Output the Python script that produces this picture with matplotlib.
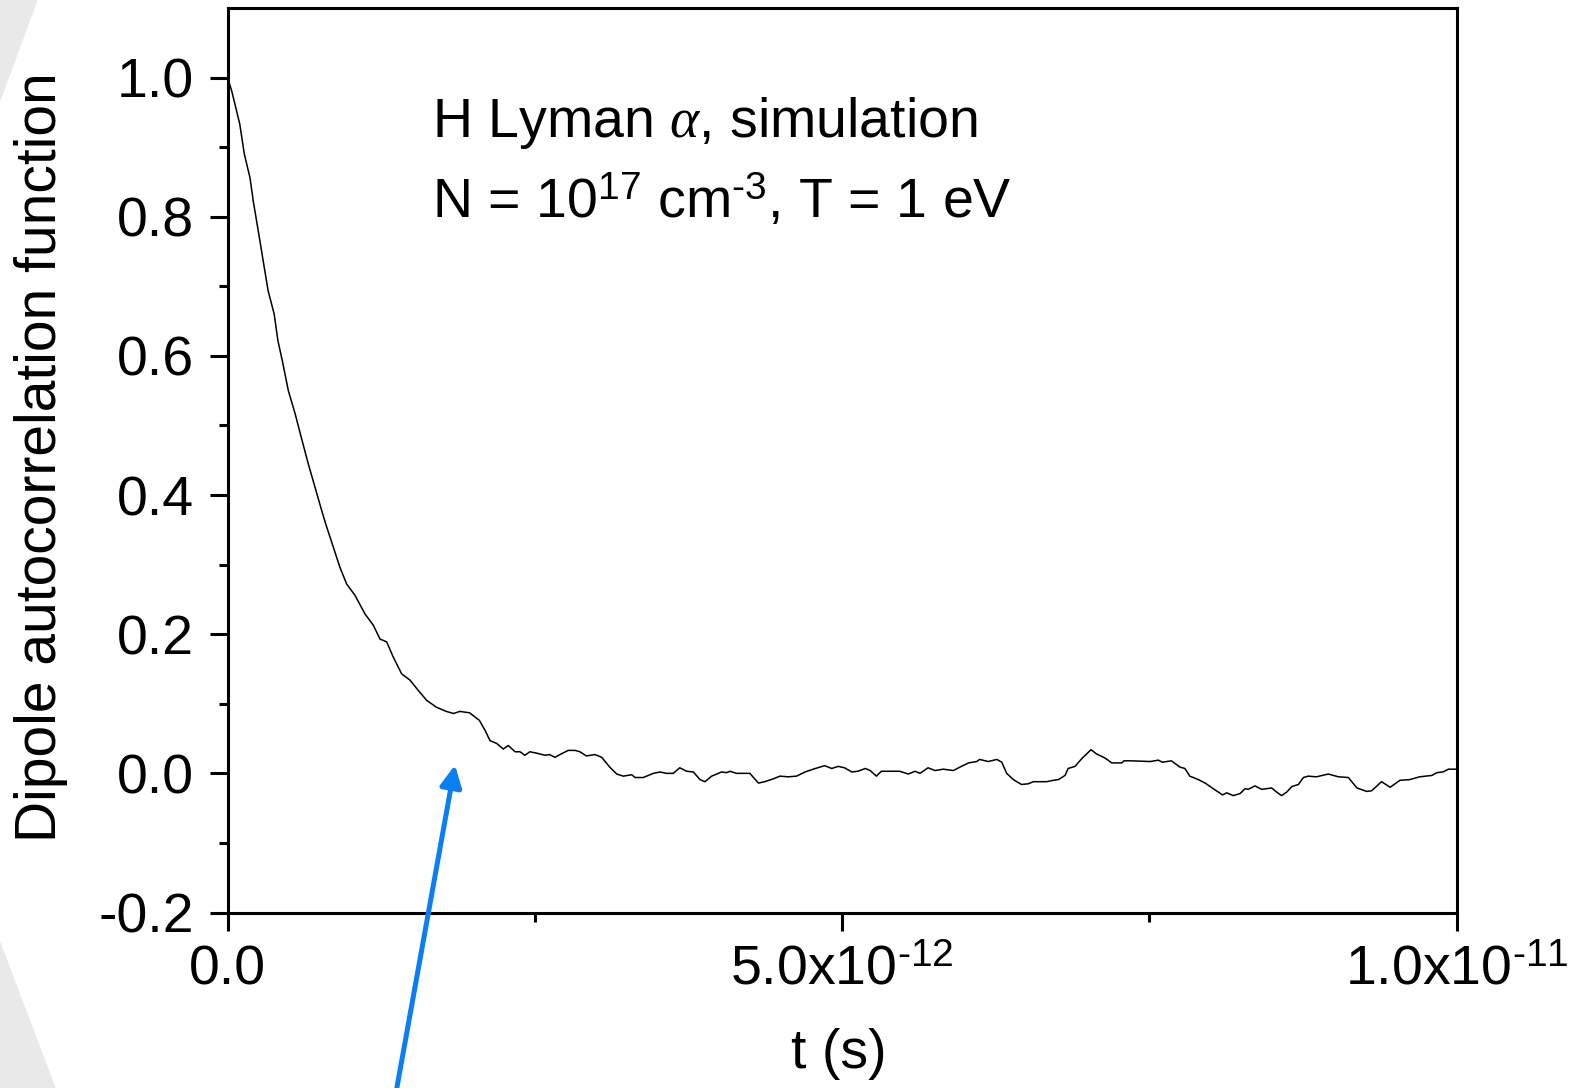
import numpy as np
import matplotlib
matplotlib.use("Agg")
import matplotlib.pyplot as plt
from matplotlib.patches import Polygon, FancyArrowPatch
from matplotlib.ticker import FixedLocator, FixedFormatter

plt.rcParams['font.family'] = ['Liberation Sans', 'DejaVu Sans']
plt.rcParams['mathtext.fontset'] = 'custom'
plt.rcParams['mathtext.rm'] = 'Liberation Sans'
plt.rcParams['mathtext.it'] = 'Liberation Serif:italic'
plt.rcParams['mathtext.bf'] = 'Liberation Sans:bold'

# time in ps
t_ps = [0, 0.034, 0.10, 0.137, 0.183, 0.21, 0.25, 0.29, 0.33, 0.38,
        0.41, 0.446, 0.495, 0.55, 0.60, 0.657, 0.712, 0.766, 0.80, 0.861,
        0.915, 0.97, 1.037, 1.119, 1.186, 1.241, 1.295, 1.349, 1.417, 1.485,
        1.553, 1.62, 1.70, 1.78, 1.84, 1.89, 1.97, 2.05, 2.095, 2.136,
        2.19, 2.244, 2.285, 2.34, 2.38, 2.42, 2.46, 2.516, 2.583, 2.62,
        2.665, 2.705, 2.773, 2.828, 2.868, 2.92, 2.99, 3.045, 3.11, 3.167,
        3.22, 3.29, 3.316, 3.383, 3.465, 3.52, 3.57, 3.627, 3.68, 3.736,
        3.79, 3.845, 3.885, 3.94, 4.02, 4.06, 4.09, 4.14, 4.25, 4.32,
        4.37, 4.44, 4.495, 4.563, 4.63, 4.70, 4.766, 4.82, 4.86, 4.916,
        4.97, 5.02, 5.08, 5.13, 5.19, 5.23, 5.28, 5.32, 5.40, 5.47,
        5.54, 5.594, 5.635, 5.70, 5.757, 5.824, 5.906, 5.96, 6.03, 6.096,
        6.12, 6.19, 6.26, 6.30, 6.34, 6.394, 6.46, 6.516, 6.556, 6.665,
        6.72, 6.76, 6.815, 6.84, 6.896, 6.95, 7.026, 7.07, 7.14, 7.195,
        7.276, 7.295, 7.345, 7.51, 7.574, 7.606, 7.68, 7.75, 7.79, 7.83,
        7.90, 7.955, 8.02, 8.097, 8.13, 8.184, 8.24, 8.28, 8.306, 8.36,
        8.415, 8.496, 8.537, 8.577, 8.618, 8.66, 8.714, 8.754, 8.794, 8.86,
        8.957, 9.04, 9.12, 9.19, 9.27, 9.31, 9.39, 9.46, 9.54, 9.62,
        9.70, 9.80, 9.84, 9.89, 9.935, 10.0]

dipole_acf = [1.0, 0.981, 0.933, 0.890, 0.856, 0.822, 0.780, 0.737, 0.694, 0.660,
              0.622, 0.593, 0.550, 0.517, 0.483, 0.445, 0.411, 0.378, 0.358, 0.325,
              0.296, 0.272, 0.256, 0.229, 0.213, 0.193, 0.189, 0.167, 0.143, 0.134,
              0.119, 0.105, 0.095, 0.089, 0.086, 0.089, 0.087, 0.076, 0.062, 0.047,
              0.043, 0.035, 0.040, 0.031, 0.031, 0.026, 0.031, 0.029, 0.026, 0.027,
              0.023, 0.027, 0.033, 0.033, 0.031, 0.025, 0.027, 0.023, 0.009, -0.001,
              -0.004, -0.002, -0.006, -0.006, 0.0, 0.002, 0.0, 0.0, 0.008, 0.003,
              0.002, -0.009, -0.012, -0.004, 0.002, 0.001, 0.003, 0.0, 0.0, -0.014,
              -0.012, -0.008, -0.004, -0.005, -0.004, 0.002, 0.006, 0.009, 0.011, 0.007,
              0.010, 0.008, 0.002, 0.003, 0.007, 0.004, -0.004, 0.003, 0.003, 0.003,
              -0.001, 0.003, 0.0, 0.008, 0.004, 0.006, 0.004, 0.009, 0.015, 0.017,
              0.020, 0.017, 0.020, 0.016, 0.0, -0.009, -0.016, -0.015, -0.012, -0.012,
              -0.010, -0.009, -0.003, 0.007, 0.010, 0.021, 0.034, 0.028, 0.022, 0.015,
              0.015, 0.018, 0.018, 0.017, 0.019, 0.016, 0.018, 0.009, 0.007, -0.004,
              -0.009, -0.014, -0.022, -0.031, -0.028, -0.032, -0.029, -0.022, -0.023, -0.018,
              -0.023, -0.021, -0.027, -0.032, -0.027, -0.019, -0.016, -0.006, -0.004, -0.005,
              -0.001, -0.005, -0.006, -0.021, -0.026, -0.025, -0.012, -0.020, -0.010, -0.009,
              -0.005, -0.003, 0.001, 0.002, 0.006, 0.006]

xticks = [0, 5e-12, 1e-11]
xtick_labels = ['0.0', r'5.0x10$^{\text{-12}}$', r'1.0x10$^{\text{-11}}$']
xminor = [2.5e-12, 7.5e-12]
yticks = [-0.2, 0.0, 0.2, 0.4, 0.6, 0.8, 1.0]
ytick_labels = ['-0.2', '0.0', '0.2', '0.4', '0.6', '0.8', '1.0']
yminor = [-0.1, 0.1, 0.3, 0.5, 0.7, 0.9]

fig = plt.figure(figsize=(15.72, 10.88), dpi=100)

# light grey background shapes at the left edge
grey = '#e8e9e8'
fig.patches.append(Polygon([[0, 1], [37 / 1572, 1], [0, 1 - 100 / 1088]],
                           closed=True, transform=fig.transFigure, color=grey, zorder=0))
fig.patches.append(Polygon([[0, 1 - 943 / 1088], [55 / 1572, 0], [0, 0]],
                           closed=True, transform=fig.transFigure, color=grey, zorder=0))

ax = fig.add_axes([227.5 / 1572, 1 - 912.5 / 1088, 1229 / 1572, 904.5 / 1088])
ax.set_facecolor('none')

ax.plot(np.array(t_ps) * 1e-12, dipole_acf, color='black', lw=1.1)

ax.set_xlim(0, 1e-11)
ax.set_ylim(-0.2, 1.1)

ax.xaxis.set_major_locator(FixedLocator(xticks))
ax.xaxis.set_major_formatter(FixedFormatter(xtick_labels))
ax.xaxis.set_minor_locator(FixedLocator(xminor))
ax.yaxis.set_major_locator(FixedLocator(yticks))
ax.yaxis.set_major_formatter(FixedFormatter(ytick_labels))
ax.yaxis.set_minor_locator(FixedLocator(yminor))

for side in ax.spines:
    ax.spines[side].set_linewidth(2.2)

ax.tick_params(which='major', direction='out', length=13, width=2.2, labelsize=40, pad=11)
ax.tick_params(which='minor', direction='out', length=6.5, width=2.2)
ax.tick_params(axis='x', which='major', pad=10)
ax.tick_params(top=False, right=False, which='both')

ax.set_ylabel('Dipole autocorrelation function', fontsize=41)
ax.yaxis.set_label_coords(-0.13, 0.503)
ax.set_xlabel('t (s)', fontsize=40, va='top')
ax.xaxis.set_label_coords(0.497, -0.128)

ax.text(0.1664, 0.8574, r'H Lyman $\alpha$, simulation', transform=ax.transAxes,
        fontsize=40, va='baseline', ha='left')
ax.text(0.1664, 0.7678, r'N = 10$^{17}$ cm$^{\text{-3}}$, T = 1 eV', transform=ax.transAxes,
        fontsize=40, va='baseline', ha='left')

# blue pointer arrow
arrow = FancyArrowPatch((397 / 1572, 1 - 1087 / 1088), (455 / 1572, 1 - 765 / 1088),
                        transform=fig.transFigure, arrowstyle='-|>,head_length=1.0,head_width=0.5',
                        mutation_scale=13, color='#0a7ff5', lw=3.6, shrinkA=0, shrinkB=0)
fig.patches.append(arrow)

fig.savefig('out.png', dpi=100)
